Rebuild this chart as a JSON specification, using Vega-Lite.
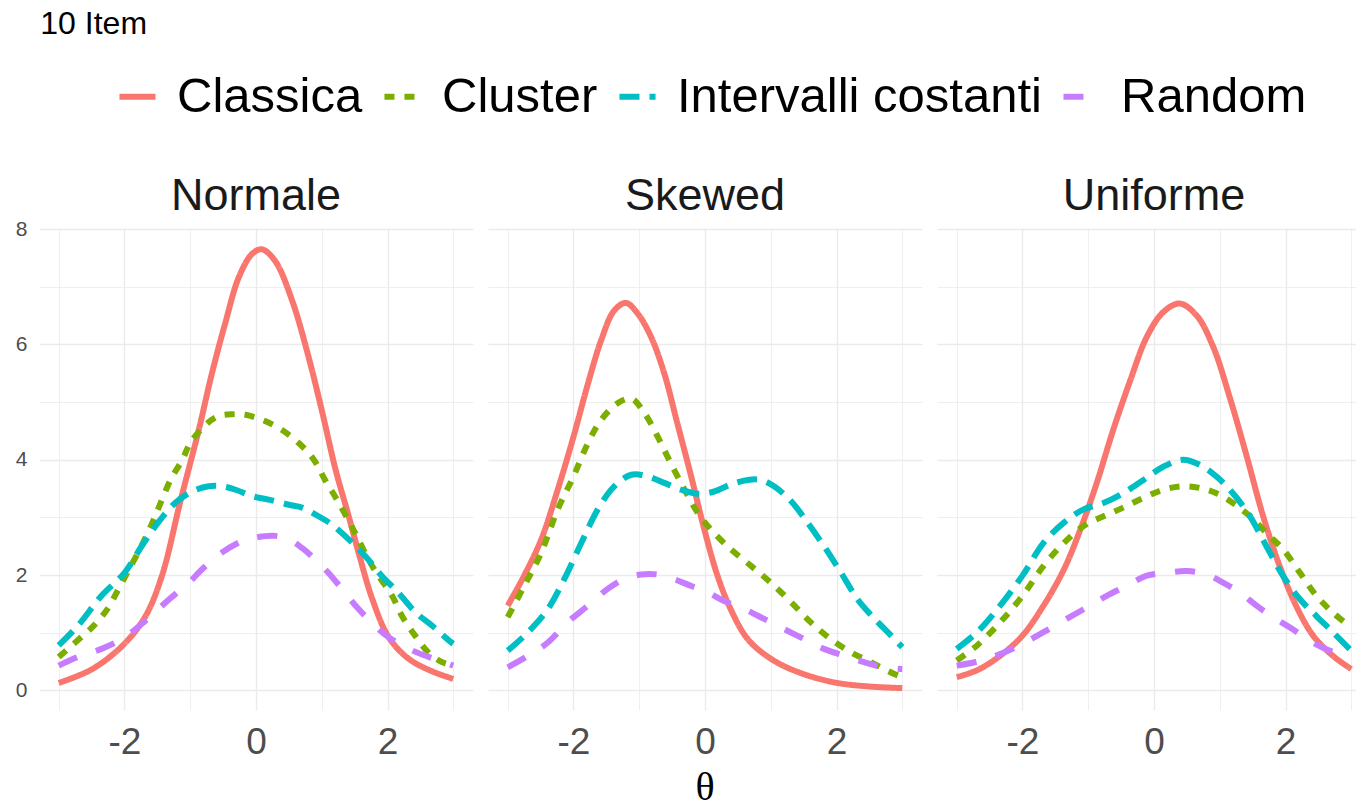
{
  "$schema": "https://vega.github.io/schema/vega-lite/v6.json",
  "background": "white",
  "padding": {"left": 15, "top": 8, "right": 0, "bottom": 5},
  "title": {"text": "10 Item", "anchor": "start", "frame": "bounds", "dx": 25, "fontSize": 32, "font": "Liberation Sans", "fontWeight": "normal", "color": "#000000", "offset": 31},
  "data": {"values": [
    {"dist":"Normale","method":"Classica","theta":-3,"value":0.13},{"dist":"Normale","method":"Classica","theta":-2.49,"value":0.37},{"dist":"Normale","method":"Classica","theta":-2,"value":0.81},{"dist":"Normale","method":"Classica","theta":-1.68,"value":1.29},{"dist":"Normale","method":"Classica","theta":-1.43,"value":1.99},{"dist":"Normale","method":"Classica","theta":-1.15,"value":3.28},{"dist":"Normale","method":"Classica","theta":-0.87,"value":4.52},{"dist":"Normale","method":"Classica","theta":-0.67,"value":5.5},{"dist":"Normale","method":"Classica","theta":-0.47,"value":6.36},{"dist":"Normale","method":"Classica","theta":-0.26,"value":7.17},{"dist":"Normale","method":"Classica","theta":-0.06,"value":7.57},{"dist":"Normale","method":"Classica","theta":0.09,"value":7.65},{"dist":"Normale","method":"Classica","theta":0.29,"value":7.45},{"dist":"Normale","method":"Classica","theta":0.55,"value":6.76},{"dist":"Normale","method":"Classica","theta":0.8,"value":5.78},{"dist":"Normale","method":"Classica","theta":1.0,"value":4.86},{"dist":"Normale","method":"Classica","theta":1.21,"value":3.83},{"dist":"Normale","method":"Classica","theta":1.41,"value":3.02},{"dist":"Normale","method":"Classica","theta":1.56,"value":2.39},{"dist":"Normale","method":"Classica","theta":1.77,"value":1.58},{"dist":"Normale","method":"Classica","theta":2.02,"value":0.92},{"dist":"Normale","method":"Classica","theta":2.32,"value":0.55},{"dist":"Normale","method":"Classica","theta":2.68,"value":0.33},{"dist":"Normale","method":"Classica","theta":3,"value":0.2},
    {"dist":"Normale","method":"Cluster","theta":-3,"value":0.58},{"dist":"Normale","method":"Cluster","theta":-2.69,"value":0.89},{"dist":"Normale","method":"Cluster","theta":-2.47,"value":1.12},{"dist":"Normale","method":"Cluster","theta":-2.26,"value":1.41},{"dist":"Normale","method":"Cluster","theta":-2.09,"value":1.76},{"dist":"Normale","method":"Cluster","theta":-1.93,"value":2.1},{"dist":"Normale","method":"Cluster","theta":-1.78,"value":2.42},{"dist":"Normale","method":"Cluster","theta":-1.61,"value":2.82},{"dist":"Normale","method":"Cluster","theta":-1.48,"value":3.17},{"dist":"Normale","method":"Cluster","theta":-1.3,"value":3.65},{"dist":"Normale","method":"Cluster","theta":-1.12,"value":4.0},{"dist":"Normale","method":"Cluster","theta":-1.0,"value":4.29},{"dist":"Normale","method":"Cluster","theta":-0.79,"value":4.58},{"dist":"Normale","method":"Cluster","theta":-0.59,"value":4.75},{"dist":"Normale","method":"Cluster","theta":-0.36,"value":4.79},{"dist":"Normale","method":"Cluster","theta":-0.16,"value":4.78},{"dist":"Normale","method":"Cluster","theta":0.12,"value":4.68},{"dist":"Normale","method":"Cluster","theta":0.39,"value":4.52},{"dist":"Normale","method":"Cluster","theta":0.65,"value":4.29},{"dist":"Normale","method":"Cluster","theta":0.88,"value":4.0},{"dist":"Normale","method":"Cluster","theta":1.05,"value":3.65},{"dist":"Normale","method":"Cluster","theta":1.23,"value":3.31},{"dist":"Normale","method":"Cluster","theta":1.41,"value":2.94},{"dist":"Normale","method":"Cluster","theta":1.53,"value":2.68},{"dist":"Normale","method":"Cluster","theta":1.71,"value":2.27},{"dist":"Normale","method":"Cluster","theta":1.86,"value":1.99},{"dist":"Normale","method":"Cluster","theta":2.07,"value":1.64},{"dist":"Normale","method":"Cluster","theta":2.22,"value":1.29},{"dist":"Normale","method":"Cluster","theta":2.42,"value":0.95},{"dist":"Normale","method":"Cluster","theta":2.62,"value":0.66},{"dist":"Normale","method":"Cluster","theta":2.83,"value":0.49},{"dist":"Normale","method":"Cluster","theta":3,"value":0.43},
    {"dist":"Normale","method":"Intervalli costanti","theta":-3,"value":0.78},{"dist":"Normale","method":"Intervalli costanti","theta":-2.71,"value":1.12},{"dist":"Normale","method":"Intervalli costanti","theta":-2.35,"value":1.64},{"dist":"Normale","method":"Intervalli costanti","theta":-2,"value":2.04},{"dist":"Normale","method":"Intervalli costanti","theta":-1.74,"value":2.5},{"dist":"Normale","method":"Intervalli costanti","theta":-1.49,"value":2.91},{"dist":"Normale","method":"Intervalli costanti","theta":-1.23,"value":3.25},{"dist":"Normale","method":"Intervalli costanti","theta":-0.97,"value":3.45},{"dist":"Normale","method":"Intervalli costanti","theta":-0.72,"value":3.54},{"dist":"Normale","method":"Intervalli costanti","theta":-0.52,"value":3.54},{"dist":"Normale","method":"Intervalli costanti","theta":-0.31,"value":3.48},{"dist":"Normale","method":"Intervalli costanti","theta":-0.06,"value":3.37},{"dist":"Normale","method":"Intervalli costanti","theta":0.19,"value":3.31},{"dist":"Normale","method":"Intervalli costanti","theta":0.5,"value":3.22},{"dist":"Normale","method":"Intervalli costanti","theta":0.7,"value":3.17},{"dist":"Normale","method":"Intervalli costanti","theta":0.95,"value":3.02},{"dist":"Normale","method":"Intervalli costanti","theta":1.15,"value":2.88},{"dist":"Normale","method":"Intervalli costanti","theta":1.41,"value":2.62},{"dist":"Normale","method":"Intervalli costanti","theta":1.66,"value":2.33},{"dist":"Normale","method":"Intervalli costanti","theta":1.91,"value":1.99},{"dist":"Normale","method":"Intervalli costanti","theta":2.16,"value":1.7},{"dist":"Normale","method":"Intervalli costanti","theta":2.43,"value":1.35},{"dist":"Normale","method":"Intervalli costanti","theta":2.68,"value":1.12},{"dist":"Normale","method":"Intervalli costanti","theta":2.94,"value":0.86},{"dist":"Normale","method":"Intervalli costanti","theta":3,"value":0.81},
    {"dist":"Normale","method":"Random","theta":-3,"value":0.43},{"dist":"Normale","method":"Random","theta":-2.71,"value":0.58},{"dist":"Normale","method":"Random","theta":-2.35,"value":0.72},{"dist":"Normale","method":"Random","theta":-2,"value":0.92},{"dist":"Normale","method":"Random","theta":-1.68,"value":1.21},{"dist":"Normale","method":"Random","theta":-1.32,"value":1.58},{"dist":"Normale","method":"Random","theta":-1.02,"value":1.87},{"dist":"Normale","method":"Random","theta":-0.82,"value":2.1},{"dist":"Normale","method":"Random","theta":-0.52,"value":2.39},{"dist":"Normale","method":"Random","theta":-0.21,"value":2.59},{"dist":"Normale","method":"Random","theta":-0.01,"value":2.65},{"dist":"Normale","method":"Random","theta":0.29,"value":2.68},{"dist":"Normale","method":"Random","theta":0.5,"value":2.62},{"dist":"Normale","method":"Random","theta":0.7,"value":2.47},{"dist":"Normale","method":"Random","theta":0.9,"value":2.27},{"dist":"Normale","method":"Random","theta":1.1,"value":2.04},{"dist":"Normale","method":"Random","theta":1.35,"value":1.7},{"dist":"Normale","method":"Random","theta":1.56,"value":1.41},{"dist":"Normale","method":"Random","theta":1.81,"value":1.12},{"dist":"Normale","method":"Random","theta":2.02,"value":0.92},{"dist":"Normale","method":"Random","theta":2.38,"value":0.69},{"dist":"Normale","method":"Random","theta":2.58,"value":0.6},{"dist":"Normale","method":"Random","theta":3,"value":0.43},
    {"dist":"Skewed","method":"Classica","theta":-3,"value":1.47},{"dist":"Skewed","method":"Classica","theta":-2.75,"value":1.99},{"dist":"Skewed","method":"Classica","theta":-2.49,"value":2.62},{"dist":"Skewed","method":"Classica","theta":-2.24,"value":3.48},{"dist":"Skewed","method":"Classica","theta":-2,"value":4.4},{"dist":"Skewed","method":"Classica","theta":-1.78,"value":5.32},{"dist":"Skewed","method":"Classica","theta":-1.58,"value":6.07},{"dist":"Skewed","method":"Classica","theta":-1.38,"value":6.59},{"dist":"Skewed","method":"Classica","theta":-1.2,"value":6.72},{"dist":"Skewed","method":"Classica","theta":-1.02,"value":6.53},{"dist":"Skewed","method":"Classica","theta":-0.82,"value":6.13},{"dist":"Skewed","method":"Classica","theta":-0.62,"value":5.5},{"dist":"Skewed","method":"Classica","theta":-0.42,"value":4.63},{"dist":"Skewed","method":"Classica","theta":-0.21,"value":3.71},{"dist":"Skewed","method":"Classica","theta":-0.01,"value":2.79},{"dist":"Skewed","method":"Classica","theta":0.19,"value":1.99},{"dist":"Skewed","method":"Classica","theta":0.39,"value":1.41},{"dist":"Skewed","method":"Classica","theta":0.65,"value":0.89},{"dist":"Skewed","method":"Classica","theta":1.0,"value":0.55},{"dist":"Skewed","method":"Classica","theta":1.41,"value":0.32},{"dist":"Skewed","method":"Classica","theta":1.96,"value":0.14},{"dist":"Skewed","method":"Classica","theta":2.47,"value":0.07},{"dist":"Skewed","method":"Classica","theta":3,"value":0.04},
    {"dist":"Skewed","method":"Cluster","theta":-3,"value":1.27},{"dist":"Skewed","method":"Cluster","theta":-2.75,"value":1.81},{"dist":"Skewed","method":"Cluster","theta":-2.49,"value":2.39},{"dist":"Skewed","method":"Cluster","theta":-2.24,"value":3.14},{"dist":"Skewed","method":"Cluster","theta":-2,"value":3.71},{"dist":"Skewed","method":"Cluster","theta":-1.78,"value":4.29},{"dist":"Skewed","method":"Cluster","theta":-1.58,"value":4.69},{"dist":"Skewed","method":"Cluster","theta":-1.33,"value":4.98},{"dist":"Skewed","method":"Cluster","theta":-1.12,"value":5.06},{"dist":"Skewed","method":"Cluster","theta":-0.92,"value":4.81},{"dist":"Skewed","method":"Cluster","theta":-0.72,"value":4.4},{"dist":"Skewed","method":"Cluster","theta":-0.52,"value":3.94},{"dist":"Skewed","method":"Cluster","theta":-0.31,"value":3.48},{"dist":"Skewed","method":"Cluster","theta":-0.11,"value":3.08},{"dist":"Skewed","method":"Cluster","theta":0.09,"value":2.79},{"dist":"Skewed","method":"Cluster","theta":0.39,"value":2.45},{"dist":"Skewed","method":"Cluster","theta":0.7,"value":2.16},{"dist":"Skewed","method":"Cluster","theta":1.0,"value":1.87},{"dist":"Skewed","method":"Cluster","theta":1.31,"value":1.53},{"dist":"Skewed","method":"Cluster","theta":1.61,"value":1.18},{"dist":"Skewed","method":"Cluster","theta":1.91,"value":0.89},{"dist":"Skewed","method":"Cluster","theta":2.22,"value":0.66},{"dist":"Skewed","method":"Cluster","theta":2.52,"value":0.49},{"dist":"Skewed","method":"Cluster","theta":2.87,"value":0.29},{"dist":"Skewed","method":"Cluster","theta":3,"value":0.23},
    {"dist":"Skewed","method":"Intervalli costanti","theta":-3,"value":0.69},{"dist":"Skewed","method":"Intervalli costanti","theta":-2.69,"value":1.01},{"dist":"Skewed","method":"Intervalli costanti","theta":-2.39,"value":1.41},{"dist":"Skewed","method":"Intervalli costanti","theta":-2.14,"value":1.93},{"dist":"Skewed","method":"Intervalli costanti","theta":-1.88,"value":2.56},{"dist":"Skewed","method":"Intervalli costanti","theta":-1.63,"value":3.14},{"dist":"Skewed","method":"Intervalli costanti","theta":-1.38,"value":3.54},{"dist":"Skewed","method":"Intervalli costanti","theta":-1.12,"value":3.74},{"dist":"Skewed","method":"Intervalli costanti","theta":-0.87,"value":3.71},{"dist":"Skewed","method":"Intervalli costanti","theta":-0.62,"value":3.6},{"dist":"Skewed","method":"Intervalli costanti","theta":-0.36,"value":3.48},{"dist":"Skewed","method":"Intervalli costanti","theta":-0.11,"value":3.41},{"dist":"Skewed","method":"Intervalli costanti","theta":0.14,"value":3.45},{"dist":"Skewed","method":"Intervalli costanti","theta":0.39,"value":3.57},{"dist":"Skewed","method":"Intervalli costanti","theta":0.65,"value":3.65},{"dist":"Skewed","method":"Intervalli costanti","theta":0.85,"value":3.65},{"dist":"Skewed","method":"Intervalli costanti","theta":1.05,"value":3.54},{"dist":"Skewed","method":"Intervalli costanti","theta":1.31,"value":3.28},{"dist":"Skewed","method":"Intervalli costanti","theta":1.56,"value":2.91},{"dist":"Skewed","method":"Intervalli costanti","theta":1.81,"value":2.5},{"dist":"Skewed","method":"Intervalli costanti","theta":2.07,"value":2.04},{"dist":"Skewed","method":"Intervalli costanti","theta":2.32,"value":1.58},{"dist":"Skewed","method":"Intervalli costanti","theta":2.58,"value":1.24},{"dist":"Skewed","method":"Intervalli costanti","theta":2.83,"value":0.95},{"dist":"Skewed","method":"Intervalli costanti","theta":3,"value":0.75},
    {"dist":"Skewed","method":"Random","theta":-3,"value":0.4},{"dist":"Skewed","method":"Random","theta":-2.69,"value":0.6},{"dist":"Skewed","method":"Random","theta":-2.39,"value":0.83},{"dist":"Skewed","method":"Random","theta":-2.09,"value":1.18},{"dist":"Skewed","method":"Random","theta":-1.78,"value":1.47},{"dist":"Skewed","method":"Random","theta":-1.48,"value":1.76},{"dist":"Skewed","method":"Random","theta":-1.23,"value":1.93},{"dist":"Skewed","method":"Random","theta":-0.97,"value":2.01},{"dist":"Skewed","method":"Random","theta":-0.72,"value":2.01},{"dist":"Skewed","method":"Random","theta":-0.47,"value":1.93},{"dist":"Skewed","method":"Random","theta":-0.21,"value":1.81},{"dist":"Skewed","method":"Random","theta":0.04,"value":1.7},{"dist":"Skewed","method":"Random","theta":0.29,"value":1.55},{"dist":"Skewed","method":"Random","theta":0.6,"value":1.41},{"dist":"Skewed","method":"Random","theta":0.9,"value":1.24},{"dist":"Skewed","method":"Random","theta":1.21,"value":1.06},{"dist":"Skewed","method":"Random","theta":1.51,"value":0.89},{"dist":"Skewed","method":"Random","theta":1.81,"value":0.72},{"dist":"Skewed","method":"Random","theta":2.12,"value":0.6},{"dist":"Skewed","method":"Random","theta":2.42,"value":0.49},{"dist":"Skewed","method":"Random","theta":2.72,"value":0.4},{"dist":"Skewed","method":"Random","theta":3,"value":0.37},
    {"dist":"Uniforme","method":"Classica","theta":-3,"value":0.23},{"dist":"Uniforme","method":"Classica","theta":-2.69,"value":0.35},{"dist":"Uniforme","method":"Classica","theta":-2.34,"value":0.6},{"dist":"Uniforme","method":"Classica","theta":-2,"value":0.95},{"dist":"Uniforme","method":"Classica","theta":-1.68,"value":1.47},{"dist":"Uniforme","method":"Classica","theta":-1.37,"value":2.1},{"dist":"Uniforme","method":"Classica","theta":-1.12,"value":2.79},{"dist":"Uniforme","method":"Classica","theta":-0.87,"value":3.6},{"dist":"Uniforme","method":"Classica","theta":-0.62,"value":4.52},{"dist":"Uniforme","method":"Classica","theta":-0.36,"value":5.38},{"dist":"Uniforme","method":"Classica","theta":-0.11,"value":6.13},{"dist":"Uniforme","method":"Classica","theta":0.14,"value":6.56},{"dist":"Uniforme","method":"Classica","theta":0.39,"value":6.71},{"dist":"Uniforme","method":"Classica","theta":0.65,"value":6.5},{"dist":"Uniforme","method":"Classica","theta":0.9,"value":5.96},{"dist":"Uniforme","method":"Classica","theta":1.15,"value":5.09},{"dist":"Uniforme","method":"Classica","theta":1.41,"value":4.06},{"dist":"Uniforme","method":"Classica","theta":1.66,"value":3.02},{"dist":"Uniforme","method":"Classica","theta":1.91,"value":2.16},{"dist":"Uniforme","method":"Classica","theta":2.16,"value":1.47},{"dist":"Uniforme","method":"Classica","theta":2.42,"value":0.95},{"dist":"Uniforme","method":"Classica","theta":2.72,"value":0.6},{"dist":"Uniforme","method":"Classica","theta":3,"value":0.37},
    {"dist":"Uniforme","method":"Cluster","theta":-3,"value":0.52},{"dist":"Uniforme","method":"Cluster","theta":-2.69,"value":0.78},{"dist":"Uniforme","method":"Cluster","theta":-2.34,"value":1.18},{"dist":"Uniforme","method":"Cluster","theta":-2,"value":1.64},{"dist":"Uniforme","method":"Cluster","theta":-1.68,"value":2.16},{"dist":"Uniforme","method":"Cluster","theta":-1.37,"value":2.56},{"dist":"Uniforme","method":"Cluster","theta":-1.07,"value":2.85},{"dist":"Uniforme","method":"Cluster","theta":-0.77,"value":3.02},{"dist":"Uniforme","method":"Cluster","theta":-0.47,"value":3.17},{"dist":"Uniforme","method":"Cluster","theta":-0.16,"value":3.34},{"dist":"Uniforme","method":"Cluster","theta":0.14,"value":3.48},{"dist":"Uniforme","method":"Cluster","theta":0.44,"value":3.54},{"dist":"Uniforme","method":"Cluster","theta":0.7,"value":3.51},{"dist":"Uniforme","method":"Cluster","theta":0.95,"value":3.42},{"dist":"Uniforme","method":"Cluster","theta":1.2,"value":3.25},{"dist":"Uniforme","method":"Cluster","theta":1.46,"value":3.02},{"dist":"Uniforme","method":"Cluster","theta":1.71,"value":2.73},{"dist":"Uniforme","method":"Cluster","theta":1.96,"value":2.45},{"dist":"Uniforme","method":"Cluster","theta":2.22,"value":2.04},{"dist":"Uniforme","method":"Cluster","theta":2.47,"value":1.64},{"dist":"Uniforme","method":"Cluster","theta":2.72,"value":1.35},{"dist":"Uniforme","method":"Cluster","theta":3,"value":1.09},
    {"dist":"Uniforme","method":"Intervalli costanti","theta":-3,"value":0.72},{"dist":"Uniforme","method":"Intervalli costanti","theta":-2.69,"value":1.01},{"dist":"Uniforme","method":"Intervalli costanti","theta":-2.34,"value":1.47},{"dist":"Uniforme","method":"Intervalli costanti","theta":-2,"value":1.99},{"dist":"Uniforme","method":"Intervalli costanti","theta":-1.68,"value":2.56},{"dist":"Uniforme","method":"Intervalli costanti","theta":-1.37,"value":2.91},{"dist":"Uniforme","method":"Intervalli costanti","theta":-1.07,"value":3.14},{"dist":"Uniforme","method":"Intervalli costanti","theta":-0.77,"value":3.25},{"dist":"Uniforme","method":"Intervalli costanti","theta":-0.47,"value":3.42},{"dist":"Uniforme","method":"Intervalli costanti","theta":-0.16,"value":3.65},{"dist":"Uniforme","method":"Intervalli costanti","theta":0.14,"value":3.88},{"dist":"Uniforme","method":"Intervalli costanti","theta":0.44,"value":4.0},{"dist":"Uniforme","method":"Intervalli costanti","theta":0.7,"value":3.91},{"dist":"Uniforme","method":"Intervalli costanti","theta":0.95,"value":3.71},{"dist":"Uniforme","method":"Intervalli costanti","theta":1.2,"value":3.42},{"dist":"Uniforme","method":"Intervalli costanti","theta":1.46,"value":3.02},{"dist":"Uniforme","method":"Intervalli costanti","theta":1.71,"value":2.5},{"dist":"Uniforme","method":"Intervalli costanti","theta":1.96,"value":1.99},{"dist":"Uniforme","method":"Intervalli costanti","theta":2.22,"value":1.58},{"dist":"Uniforme","method":"Intervalli costanti","theta":2.47,"value":1.29},{"dist":"Uniforme","method":"Intervalli costanti","theta":2.72,"value":1.01},{"dist":"Uniforme","method":"Intervalli costanti","theta":3,"value":0.69},
    {"dist":"Uniforme","method":"Random","theta":-3,"value":0.43},{"dist":"Uniforme","method":"Random","theta":-2.69,"value":0.5},{"dist":"Uniforme","method":"Random","theta":-2.34,"value":0.63},{"dist":"Uniforme","method":"Random","theta":-2,"value":0.81},{"dist":"Uniforme","method":"Random","theta":-1.68,"value":1.01},{"dist":"Uniforme","method":"Random","theta":-1.33,"value":1.24},{"dist":"Uniforme","method":"Random","theta":-1.02,"value":1.44},{"dist":"Uniforme","method":"Random","theta":-0.72,"value":1.64},{"dist":"Uniforme","method":"Random","theta":-0.42,"value":1.81},{"dist":"Uniforme","method":"Random","theta":-0.11,"value":1.99},{"dist":"Uniforme","method":"Random","theta":0.19,"value":2.04},{"dist":"Uniforme","method":"Random","theta":0.5,"value":2.07},{"dist":"Uniforme","method":"Random","theta":0.8,"value":2.01},{"dist":"Uniforme","method":"Random","theta":1.05,"value":1.87},{"dist":"Uniforme","method":"Random","theta":1.3,"value":1.7},{"dist":"Uniforme","method":"Random","theta":1.56,"value":1.47},{"dist":"Uniforme","method":"Random","theta":1.81,"value":1.27},{"dist":"Uniforme","method":"Random","theta":2.07,"value":1.09},{"dist":"Uniforme","method":"Random","theta":2.37,"value":0.86},{"dist":"Uniforme","method":"Random","theta":2.67,"value":0.69},{"dist":"Uniforme","method":"Random","theta":3,"value":0.58}
  ]},
  "facet": {
    "column": {
      "field": "dist", "type": "nominal",
      "header": {
        "title": "θ", "titleOrient": "bottom", "labelOrient": "top",
        "labelFontSize": 45, "labelFont": "Liberation Sans", "labelColor": "#1a1a1a", "labelPadding": 9,
        "titleFont": "Liberation Serif", "titleFontSize": 40, "titleColor": "#000000", "titleFontWeight": "normal", "titlePadding": -2
      }
    }
  },
  "spacing": 15,
  "spec": {
    "width": 434,
    "height": 482,
    "mark": {"type": "line", "strokeWidth": 6, "interpolate": "catmull-rom"},
    "encoding": {
      "x": {
        "field": "theta", "type": "quantitative",
        "scale": {"domain": [-3.3, 3.3], "nice": false, "zero": false},
        "axis": {
          "title": null, "values": [-3, -2, -1, 0, 1, 2, 3],
          "labelExpr": "datum.value % 2 == 0 ? '' + datum.value : ''",
          "labelFontSize": 37, "labelFont": "Liberation Sans", "labelColor": "#4d4d4d", "labelPadding": 14,
          "ticks": false, "tickSize": 0, "domain": false,
          "grid": true, "gridColor": "#ebebeb",
          "gridWidth": {"condition": {"test": "datum.value % 2 == 0", "value": 1.4}, "value": 0.8}
        }
      },
      "y": {
        "field": "value", "type": "quantitative",
        "scale": {"domain": [-0.34, 8.02], "nice": false, "zero": false},
        "axis": {
          "title": null, "values": [0, 1, 2, 3, 4, 5, 6, 7, 8],
          "labelExpr": "datum.value % 2 == 0 ? '' + datum.value : ''",
          "labelFontSize": 21, "labelFont": "Liberation Sans", "labelColor": "#4d4d4d", "labelPadding": 12,
          "ticks": false, "tickSize": 0, "domain": false,
          "grid": true, "gridColor": "#ebebeb",
          "gridWidth": {"condition": {"test": "datum.value % 2 == 0", "value": 1.4}, "value": 0.8}
        }
      },
      "color": {
        "field": "method", "type": "nominal",
        "scale": {"domain": ["Classica", "Cluster", "Intervalli costanti", "Random"], "range": ["#F8766D", "#7CAE00", "#00BFC4", "#C77CFF"]},
        "legend": {"title": null, "orient": "none", "legendX": 74, "legendY": -156, "direction": "horizontal"}
      },
      "strokeDash": {
        "field": "method", "type": "nominal",
        "scale": {"domain": ["Classica", "Cluster", "Intervalli costanti", "Random"], "range": [[1, 0], [10, 10], [20, 10], [20, 20]]},
        "legend": {"title": null, "orient": "none", "legendX": 74, "legendY": -156, "direction": "horizontal"}
      }
    }
  },
  "config": {
    "view": {"stroke": null},
    "legend": {
      "symbolType": "stroke", "symbolSize": 1300, "symbolStrokeWidth": 6,
      "labelFontSize": 49, "labelFont": "Liberation Sans", "labelColor": "#000000",
      "labelOffset": 15, "columnPadding": 9, "labelLimit": 0
    }
  }
}
